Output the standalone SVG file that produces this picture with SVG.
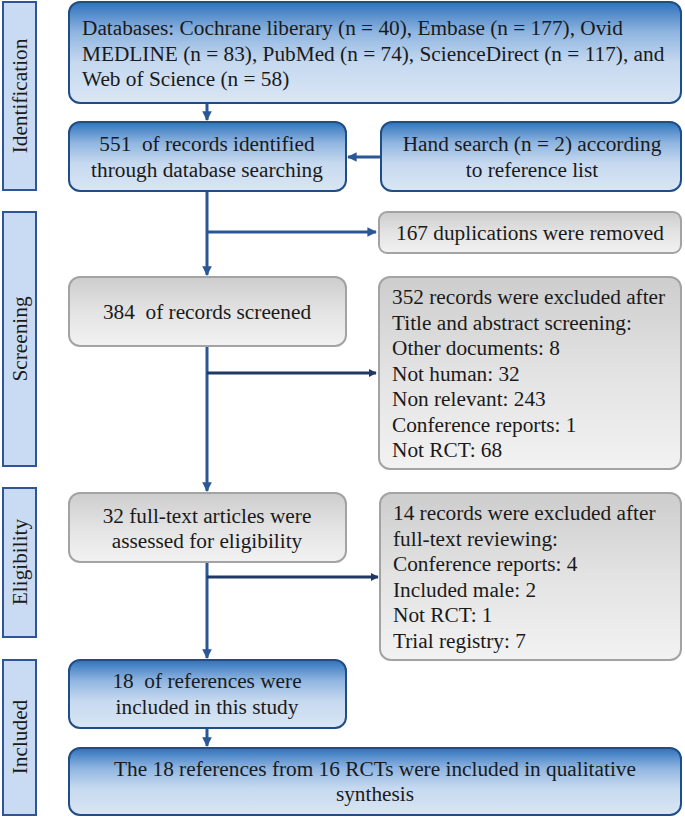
<svg xmlns="http://www.w3.org/2000/svg" width="685" height="818" viewBox="0 0 685 818">
<defs>
<linearGradient id="gb" x1="0" y1="0" x2="0" y2="1">
<stop offset="0" stop-color="#2f72bd"/>
<stop offset="0.3" stop-color="#8fb5e0"/>
<stop offset="0.6" stop-color="#c6d9ef"/>
<stop offset="1" stop-color="#d9e6f5"/>
</linearGradient>
<linearGradient id="gg" x1="0" y1="0" x2="0" y2="1">
<stop offset="0" stop-color="#cdcdcd"/>
<stop offset="0.5" stop-color="#e3e3e3"/>
<stop offset="1" stop-color="#f2f2f2"/>
</linearGradient>
<marker id="ab" viewBox="0 0 10 10" refX="9" refY="5" markerWidth="3.2" markerHeight="3.2" orient="auto" markerUnits="strokeWidth">
<path d="M0,0 L10,5 L0,10 Z" fill="#2b5797"/>
</marker>
<marker id="an" viewBox="0 0 10 10" refX="9" refY="5" markerWidth="3.2" markerHeight="2.6" orient="auto" markerUnits="strokeWidth">
<path d="M0,0 L10,5 L0,10 Z" fill="#1f3864"/>
</marker>
</defs>
<style>
text{font-family:"Liberation Serif","Times New Roman",serif;font-size:21.3px;fill:#1a1a1a;white-space:pre}
.c{text-anchor:middle}
.blue{fill:url(#gb);stroke:#1f4e86;stroke-width:2}
.grey{fill:url(#gg);stroke:#a3a3a3;stroke-width:2}
.side{fill:#c9dbf2;stroke:#2f5597;stroke-width:2}
.lb{stroke:#2b5797;stroke-width:3;fill:none}
.ln{stroke:#1f3864;stroke-width:3;fill:none}
</style>

<g id="side-identification"><rect class="side" x="3" y="2" width="33" height="188"/><text class="c" transform="translate(27,96) rotate(-90)">Identification</text></g>
<g id="side-screening"><rect class="side" x="3" y="212" width="33" height="254"/><text class="c" transform="translate(27,339) rotate(-90)">Screening</text></g>
<g id="side-eligibility"><rect class="side" x="3" y="488" width="33" height="149"/><text class="c" transform="translate(27,562) rotate(-90)">Eligibility</text></g>
<g id="side-included"><rect class="side" x="3" y="660" width="33" height="155"/><text class="c" transform="translate(27,737) rotate(-90)">Included</text></g>

<g id="connectors">
<path class="lb" d="M207,103 V120" marker-end="url(#ab)"/>
<path class="lb" d="M381,157 H348" marker-end="url(#ab)"/>
<path class="lb" d="M207,191 V275" marker-end="url(#ab)"/>
<path class="lb" d="M207,232 H376" marker-end="url(#ab)"/>
<path class="lb" d="M207,346 V491" marker-end="url(#ab)"/>
<path class="ln" d="M207,373 H376" marker-end="url(#an)"/>
<path class="lb" d="M207,562 V658" marker-end="url(#ab)"/>
<path class="ln" d="M207,577 H378" marker-end="url(#an)"/>
<path class="lb" d="M207,728 V746" marker-end="url(#ab)"/>
</g>

<g id="n-databases"><rect class="blue" x="69" y="2" width="612" height="101" rx="11"/>
<text x="82" y="35">Databases: Cochrane liberary (n = 40), Embase (n = 177), Ovid</text>
<text x="82" y="60.5">MEDLINE (n = 83), PubMed (n = 74), ScienceDirect (n = 117), and</text>
<text x="82" y="86">Web of Science (n = 58)</text></g>

<g id="n-551"><rect class="blue" x="69" y="122" width="277" height="69" rx="11"/>
<text class="c" x="207" y="151">551  of records identified</text>
<text class="c" x="207" y="176.5">through database searching</text></g>

<g id="n-hand"><rect class="blue" x="381" y="122" width="300" height="69" rx="11"/>
<text class="c" x="532" y="151">Hand search (n = 2) according</text>
<text class="c" x="532" y="176.5">to reference list</text></g>

<g id="n-dup"><rect class="grey" x="379" y="212" width="302" height="41" rx="8"/>
<text class="c" x="530" y="239.5">167 duplications were removed</text></g>

<g id="n-384"><rect class="grey" x="69" y="277" width="277" height="69" rx="11"/>
<text class="c" x="207" y="318.5">384  of records screened</text></g>

<g id="n-352"><rect class="grey" x="379" y="277" width="302" height="192" rx="11"/>
<text x="392" y="304">352 records were excluded after</text>
<text x="392" y="329.5">Title and abstract screening:</text>
<text x="392" y="355">Other documents: 8</text>
<text x="392" y="380.5">Not human: 32</text>
<text x="392" y="406">Non relevant: 243</text>
<text x="392" y="431.5">Conference reports: 1</text>
<text x="392" y="457">Not RCT: 68</text></g>

<g id="n-32"><rect class="grey" x="69" y="493" width="277" height="69" rx="11"/>
<text class="c" x="207" y="522.5">32 full-text articles were</text>
<text class="c" x="207" y="548">assessed for eligibility</text></g>

<g id="n-14"><rect class="grey" x="380" y="493" width="301" height="167" rx="11"/>
<text x="393" y="520">14 records were excluded after</text>
<text x="393" y="545.5">full-text reviewing:</text>
<text x="393" y="571">Conference reports: 4</text>
<text x="393" y="596.5">Included male: 2</text>
<text x="393" y="622">Not RCT: 1</text>
<text x="393" y="647.5">Trial registry: 7</text></g>

<g id="n-18"><rect class="blue" x="69" y="660" width="277" height="68" rx="11"/>
<text class="c" x="207" y="688">18  of references were</text>
<text class="c" x="207" y="713.5">included in this study</text></g>

<g id="n-final"><rect class="blue" x="69" y="748" width="612" height="67" rx="11"/>
<text class="c" x="375" y="776">The 18 references from 16 RCTs were included in qualitative</text>
<text class="c" x="375" y="801">synthesis</text></g>
</svg>
